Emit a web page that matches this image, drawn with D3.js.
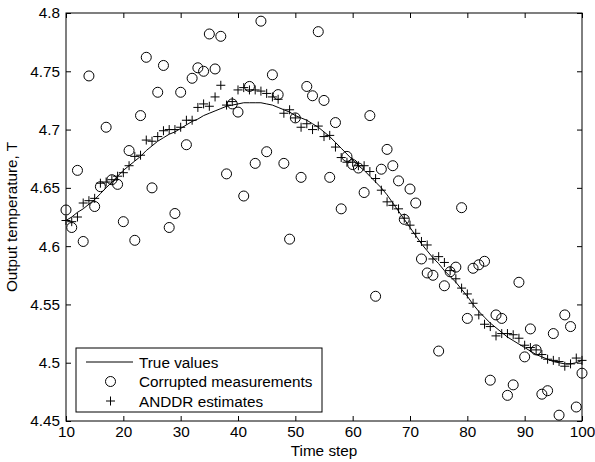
<!DOCTYPE html>
<html>
<head>
<meta charset="utf-8">
<script src="https://cdn.jsdelivr.net/npm/d3@7"></script>
<style>
  body { margin: 0; background: #fff; }
  svg { font-family: "Liberation Sans", Arial, sans-serif; }
</style>
</head>
<body>
<script>
const width = 595;
const height = 462;
const margin = {top: 13, right: 13, bottom: 41, left: 66};
const fontSize = 15.3;

// time steps 10..100
const timeSteps = d3.range(10, 101);

const trueValues = [
  4.622, 4.625, 4.629, 4.632, 4.636, 4.640, 4.645, 4.650, 4.655, 4.660,
  4.665, 4.669, 4.673, 4.677, 4.682, 4.686, 4.690, 4.693, 4.696, 4.698,
  4.701, 4.704, 4.707, 4.709, 4.712, 4.714, 4.716, 4.718, 4.720, 4.721,
  4.722, 4.723, 4.723, 4.723, 4.723, 4.722, 4.721, 4.719, 4.717, 4.715,
  4.712, 4.710, 4.708, 4.705, 4.702, 4.698, 4.694, 4.689, 4.684, 4.679,
  4.674, 4.669, 4.665, 4.660, 4.655, 4.650, 4.644, 4.637, 4.630, 4.623,
  4.616, 4.609, 4.602, 4.596, 4.590, 4.585, 4.579, 4.574, 4.569, 4.563,
  4.557, 4.550, 4.544, 4.539, 4.534, 4.530, 4.526, 4.522, 4.519, 4.516,
  4.513, 4.510, 4.507, 4.505, 4.503, 4.501, 4.500, 4.499, 4.499, 4.500,
  4.502
];

const measurements = [
  4.631, 4.616, 4.665, 4.604, 4.746, 4.634, 4.651, 4.702, 4.657, 4.653,
  4.621, 4.682, 4.605, 4.712, 4.762, 4.650, 4.732, 4.755, 4.616, 4.628,
  4.732, 4.687, 4.744, 4.753, 4.750, 4.782, 4.752, 4.780, 4.662, 4.722,
  4.715, 4.643, 4.737, 4.671, 4.793, 4.681, 4.747, 4.730, 4.671, 4.606,
  4.710, 4.659, 4.737, 4.729, 4.784, 4.725, 4.659, 4.706, 4.632, 4.677,
  4.670, 4.667, 4.646, 4.712, 4.557, 4.666, 4.683, 4.669, 4.656, 4.623,
  4.649, 4.637, 4.589, 4.577, 4.575, 4.510, 4.566, 4.578, 4.582, 4.633,
  4.538, 4.581, 4.584, 4.587, 4.485, 4.541, 4.538, 4.472, 4.481, 4.569,
  4.505, 4.529, 4.511, 4.473, 4.476, 4.525, 4.455, 4.541, 4.531, 4.462,
  4.491
];

const estimates = [
  4.622, 4.621, 4.625, 4.637, 4.639, 4.641, 4.654, 4.655, 4.657, 4.660,
  4.663, 4.669, 4.677, 4.678, 4.691, 4.690, 4.694, 4.699, 4.700, 4.700,
  4.702, 4.708, 4.708, 4.719, 4.722, 4.720, 4.728, 4.738, 4.721, 4.724,
  4.734, 4.736, 4.734, 4.734, 4.733, 4.731, 4.728, 4.726, 4.714, 4.717,
  4.710, 4.702, 4.705, 4.700, 4.703, 4.694, 4.695, 4.685, 4.676, 4.672,
  4.672, 4.669, 4.669, 4.664, 4.658, 4.648, 4.638, 4.635, 4.632, 4.624,
  4.618, 4.611, 4.604, 4.601, 4.589, 4.591, 4.586, 4.579, 4.572, 4.564,
  4.559, 4.551, 4.541, 4.533, 4.531, 4.523, 4.525, 4.525, 4.524, 4.521,
  4.515, 4.513, 4.511, 4.507, 4.503, 4.502, 4.501, 4.497, 4.499, 4.504,
  4.502
];

const xTicks = d3.range(10, 101, 10);
const yTicks = [4.45, 4.5, 4.55, 4.6, 4.65, 4.7, 4.75, 4.8];

const legendItems = ["True values", "Corrupted measurements", "ANDDR estimates"];

const svg = d3.select("body").append("svg")
  .attr("width", width)
  .attr("height", height);

const x = d3.scaleLinear().domain([10, 100]).range([margin.left, width - margin.right]);
const y = d3.scaleLinear().domain([4.45, 4.8]).range([height - margin.bottom, margin.top]);

const plotW = width - margin.left - margin.right;
const plotH = height - margin.top - margin.bottom;
const tickLen = 5;

// axes: ticks point inward, on all four sides
svg.append("g")
  .attr("transform", `translate(0,${height - margin.bottom})`)
  .call(d3.axisBottom(x).tickValues(xTicks).tickSizeInner(-tickLen).tickSizeOuter(0).tickPadding(5))
  .call(g => g.selectAll("text").attr("font-size", fontSize));

svg.append("g")
  .attr("transform", `translate(0,${margin.top})`)
  .call(d3.axisTop(x).tickValues(xTicks).tickSizeInner(-tickLen).tickSizeOuter(0).tickFormat(""));

svg.append("g")
  .attr("transform", `translate(${margin.left},0)`)
  .call(d3.axisLeft(y).tickValues(yTicks).tickSizeInner(-tickLen).tickSizeOuter(0).tickPadding(6)
    .tickFormat(d => String(+d.toFixed(2))))
  .call(g => g.selectAll("text").attr("font-size", fontSize));

svg.append("g")
  .attr("transform", `translate(${width - margin.right},0)`)
  .call(d3.axisRight(y).tickValues(yTicks).tickSizeInner(-tickLen).tickSizeOuter(0).tickFormat(""));

svg.selectAll(".domain").remove();
svg.selectAll(".tick line").attr("stroke", "#000");
svg.selectAll(".tick text").attr("fill", "#000");

svg.append("rect")
  .attr("x", margin.left).attr("y", margin.top)
  .attr("width", plotW).attr("height", plotH)
  .attr("fill", "none").attr("stroke", "#000").attr("stroke-width", 1);

// true curve
svg.append("path")
  .datum(timeSteps)
  .attr("fill", "none")
  .attr("stroke", "#000")
  .attr("stroke-width", 1)
  .attr("d", d3.line().x(t => x(t)).y((t, i) => y(trueValues[i])));

// corrupted measurements
svg.append("g").selectAll("circle")
  .data(timeSteps)
  .join("circle")
  .attr("cx", t => x(t))
  .attr("cy", (t, i) => y(measurements[i]))
  .attr("r", 5)
  .attr("fill", "none")
  .attr("stroke", "#000")
  .attr("stroke-width", 1);

// ANDDR estimates
const plusPath = (cx, cy, s) => `M${cx - s},${cy}H${cx + s}M${cx},${cy - s}V${cy + s}`;
svg.append("g").selectAll("path")
  .data(timeSteps)
  .join("path")
  .attr("d", (t, i) => plusPath(x(t), y(estimates[i]), 4.5))
  .attr("stroke", "#000")
  .attr("stroke-width", 1)
  .attr("fill", "none");

// axis labels
svg.append("text")
  .attr("x", margin.left + plotW / 2)
  .attr("y", 456)
  .attr("text-anchor", "middle")
  .attr("font-size", fontSize)
  .text("Time step");

svg.append("text")
  .attr("transform", `translate(17,${margin.top + plotH / 2}) rotate(-90)`)
  .attr("text-anchor", "middle")
  .attr("font-size", fontSize)
  .text("Output temperature, T");

// legend
const legend = svg.append("g");
legend.append("rect")
  .attr("x", 76).attr("y", 348)
  .attr("width", 246).attr("height", 64)
  .attr("fill", "#fff").attr("stroke", "#000").attr("stroke-width", 1);

const rowY = i => 362 + i * 19.5;
legend.append("line")
  .attr("x1", 86).attr("x2", 133)
  .attr("y1", rowY(0)).attr("y2", rowY(0))
  .attr("stroke", "#000");
legend.append("circle")
  .attr("cx", 110.5).attr("cy", rowY(1)).attr("r", 5)
  .attr("fill", "none").attr("stroke", "#000");
legend.append("path")
  .attr("d", plusPath(110.5, rowY(2), 4.5))
  .attr("stroke", "#000");

legend.selectAll("text.item")
  .data(legendItems)
  .join("text")
  .attr("class", "item")
  .attr("x", 139)
  .attr("y", (d, i) => rowY(i) + 5.5)
  .attr("font-size", fontSize)
  .text(d => d);
</script>
</body>
</html>
